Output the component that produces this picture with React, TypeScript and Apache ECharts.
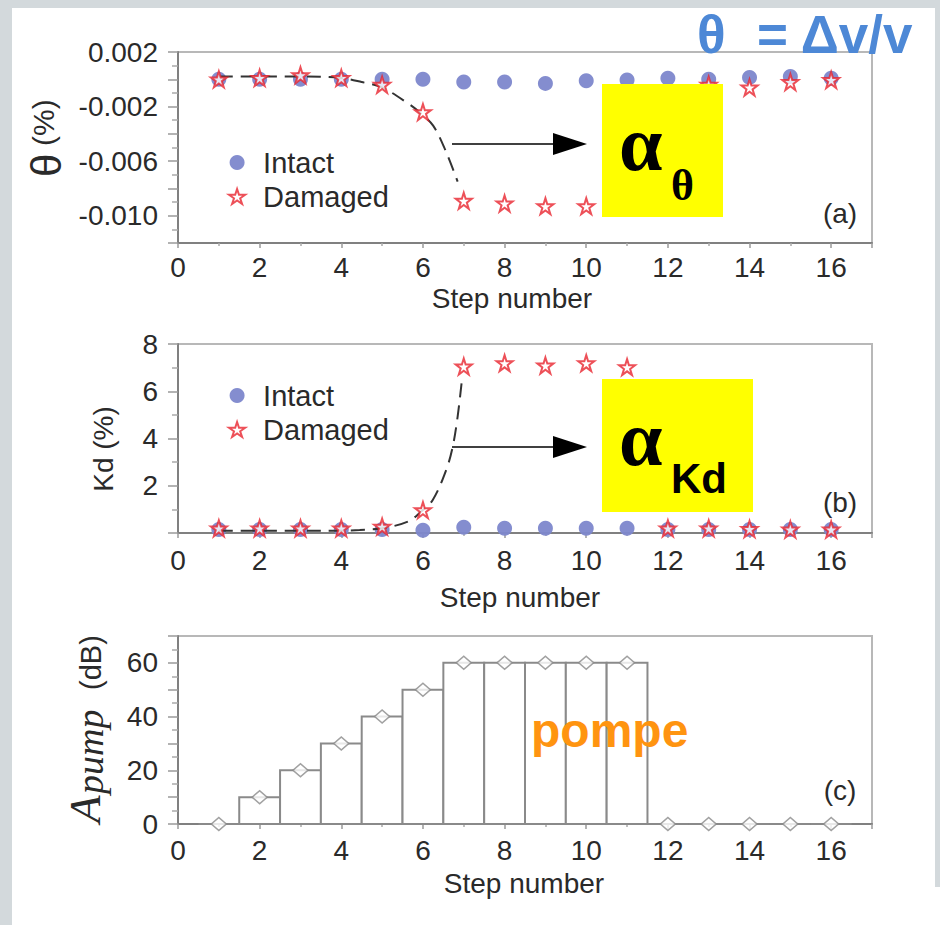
import React, { useEffect, useRef } from 'react';
import * as echarts from 'echarts';

// ---------- data ----------
const steps = [1, 2, 3, 4, 5, 6, 7, 8, 9, 10, 11, 12, 13, 14, 15, 16];

const thetaIntact = [0.0, 0.0, 0.0, 0.0, 0.0, 0.0, -0.0002, -0.0002, -0.0003, -0.0001, -0.00005, 0.00007, 0.0, 0.00014, 0.0002, 0.00007];
const thetaDamaged = [0.0, 0.0001, 0.0003, 0.0001, -0.0004, -0.0024, -0.0089, -0.0091, -0.0093, -0.0093, -0.0092, -0.0012, -0.0004, -0.0006, -0.0002, -0.00005];
const thetaFitX = [1, 2, 3, 4, 4.5, 5, 5.65, 5.95, 6.25, 6.55, 6.85];
const thetaFitY = [0.0002, 0.0002, 0.0002, 0.0001, -0.0002, -0.0006, -0.0018, -0.0025, -0.0034, -0.0052, -0.0075];

const kdIntact = [0.15, 0.15, 0.15, 0.15, 0.15, 0.12, 0.24, 0.2, 0.2, 0.2, 0.2, 0.15, 0.15, 0.15, 0.15, 0.15];
const kdDamaged = [0.2, 0.2, 0.2, 0.2, 0.27, 0.97, 7.05, 7.19, 7.09, 7.19, 7.02, 0.2, 0.2, 0.17, 0.15, 0.15];
const kdFitX = [1, 2, 3, 4, 4.45, 5, 5.63, 5.95, 6.24, 6.57, 6.73, 6.85, 6.95];
const kdFitY = [0.1, 0.1, 0.1, 0.1, 0.13, 0.2, 0.48, 0.9, 1.4, 2.67, 3.66, 4.93, 6.4];

const pumpDb = [0, 10, 20, 30, 40, 50, 60, 60, 60, 60, 60, 0, 0, 0, 0, 0];

const thetaTickLabels = ['0.002', '-0.002', '-0.006', '-0.010'];
const kdTickLabels = ['2', '4', '6', '8'];
const pumpTickLabels = ['0', '20', '40', '60'];
const stepTickLabels = ['0', '2', '4', '6', '8', '10', '12', '14', '16'];

// ---------- styles ----------
const SANS = '"Liberation Sans", Arial, Helvetica, sans-serif';
const SERIF = '"Liberation Serif", "Times New Roman", serif';
const TXT = '#2a2a2a';
const STAR = 'path://M50,0 L61.8,35.4 L100,35.4 L69.1,57.3 L80.9,92.7 L50,70.8 L19.1,92.7 L30.9,57.3 L0,35.4 L38.2,35.4 Z';
const INTACT_COLOR = '#7d87cc';
const DAMAGED_COLOR = '#e8242e';

function xAxisFor(gridIndex: number, labelMargin: number, nameGap: number, namePad: number[]) {
  return {
    type: 'value',
    gridIndex,
    min: 0,
    max: 17,
    interval: 2,
    name: 'Step number',
    nameLocation: 'middle',
    nameGap,
    nameTextStyle: { fontFamily: SANS, fontSize: 28, color: TXT, padding: namePad },
    axisLine: { show: true, onZero: false, lineStyle: { color: '#808080', width: 2 } },
    axisTick: { show: true, inside: false, length: 5, lineStyle: { color: '#9a9a9a', width: 1.5 } },
    minorTick: { show: true, splitNumber: 2, length: 3, lineStyle: { color: '#aaaaaa', width: 1.5 } },
    axisLabel: {
      margin: labelMargin,
      fontFamily: SANS,
      fontSize: 28,
      color: TXT,
      formatter: (v: number) => (stepTickLabels.includes(String(v)) ? String(v) : ''),
    },
    splitLine: { show: false },
  };
}

function yAxisFor(gridIndex: number, min: number, max: number, interval: number, fmt: (v: number) => string) {
  return {
    type: 'value',
    gridIndex,
    min,
    max,
    interval,
    axisLine: { show: true, onZero: false, lineStyle: { color: '#808080', width: 2 } },
    axisTick: { show: true, inside: false, length: 10, lineStyle: { color: '#9a9a9a', width: 1.5 } },
    minorTick: { show: true, splitNumber: 2, length: 6, lineStyle: { color: '#aaaaaa', width: 1.5 } },
    axisLabel: { margin: 20, fontFamily: SANS, fontSize: 28, color: TXT, formatter: fmt },
    splitLine: { show: false },
  };
}

const gridBase = { show: true, borderColor: '#b8b8b8', borderWidth: 2, backgroundColor: 'transparent', containLabel: false };

function legendAt(top: number) {
  return {
    orient: 'vertical',
    left: 223,
    top,
    itemWidth: 42,
    itemHeight: 15,
    itemGap: 5,
    selectedMode: false,
    data: [
      { name: 'Intact', icon: 'circle' },
      { name: 'Damaged', icon: STAR },
    ],
    textStyle: { fontFamily: SANS, fontSize: 29, color: TXT },
  };
}

const pairs = (xs: number[], ys: number[]) => xs.map((x, i) => [x, ys[i]]);

function buildOption() {
  const intactStyle = { color: INTACT_COLOR, opacity: 0.95 };
  const damagedStyle = { color: '#ffffff', borderColor: DAMAGED_COLOR, borderWidth: 2 };
  const fitLine = { color: '#333333', width: 2, type: [14, 8] };

  const textEl = (x: number, y: number, text: string, extra: any, z = 20) => ({
    type: 'text',
    x,
    y,
    z,
    style: {
      text,
      fill: TXT,
      align: 'left',
      verticalAlign: 'middle',
      textAlign: 'left',
      textVerticalAlign: 'middle',
      ...extra,
    },
  });

  const graphic: any[] = [
    // page frame strips
    { type: 'rect', z: 0, shape: { x: 0, y: 0, width: 12, height: 925 }, style: { fill: '#d3d9dc' } },
    { type: 'rect', z: 0, shape: { x: 0, y: 0, width: 940, height: 8 }, style: { fill: '#d3d9dc' } },
    { type: 'rect', z: 0, shape: { x: 935, y: 0, width: 5, height: 887 }, style: { fill: '#d3d9dc' } },

    // title
    textEl(697, 34, 'θ', { fontFamily: SANS, fontSize: 53, fontWeight: 'bold', fill: '#4d88d6' }),
    textEl(757, 34, '= Δv/v', { fontFamily: SANS, fontSize: 53, fontWeight: 'bold', fill: '#4d88d6' }),

    // y-axis name (a): θ (%)
    {
      type: 'group', x: 61, y: 177, rotation: Math.PI / 2, z: 20,
      children: [
        textEl(0, -14.6, 'θ', { fontFamily: SANS, fontSize: 42 }),
        textEl(31, -17.4, '(%)', { fontFamily: SANS, fontSize: 30 }),
      ],
    },
    // y-axis name (b)
    {
      type: 'text', x: 103, y: 449, rotation: Math.PI / 2, z: 20,
      style: {
        text: 'Kd (%)', fontFamily: SANS, fontSize: 28, fill: TXT,
        align: 'center', verticalAlign: 'middle', textAlign: 'center', textVerticalAlign: 'middle',
      },
    },
    // y-axis name (c): A_pump (dB)
    {
      type: 'group', x: 100, y: 823, rotation: Math.PI / 2, z: 20,
      children: [
        textEl(0, -15, 'A', { fontFamily: SERIF, fontStyle: 'italic', fontSize: 45 }),
        textEl(29, -10, 'pump', { fontFamily: SERIF, fontStyle: 'italic', fontSize: 38 }),
        textEl(133, -9, '(dB)', { fontFamily: SANS, fontSize: 29 }),
      ],
    },

    // panel tags
    textEl(840, 213, '(a)', { fontFamily: SANS, fontSize: 28, align: 'center', textAlign: 'center' }),
    textEl(840, 502, '(b)', { fontFamily: SANS, fontSize: 28, align: 'center', textAlign: 'center' }),
    textEl(840, 790, '(c)', { fontFamily: SANS, fontSize: 28, align: 'center', textAlign: 'center' }),

    // yellow boxes
    { type: 'rect', z: 15, shape: { x: 602, y: 84, width: 121, height: 133 }, style: { fill: '#ffff00' } },
    { type: 'rect', z: 15, shape: { x: 602, y: 379, width: 151, height: 133 }, style: { fill: '#ffff00' } },
    textEl(619, 143, 'α', { fontFamily: SERIF, fontWeight: 'bold', fontSize: 78, fill: '#000' }),
    textEl(671, 185, 'θ', { fontFamily: SERIF, fontWeight: 'bold', fontSize: 44, fill: '#000' }),
    textEl(619, 438, 'α', { fontFamily: SERIF, fontWeight: 'bold', fontSize: 78, fill: '#000' }),
    textEl(671, 478, 'Kd', { fontFamily: SANS, fontWeight: 'bold', fontSize: 42, fill: '#000' }),

    // arrows
    { type: 'line', z: 16, shape: { x1: 452, y1: 144, x2: 556, y2: 144 }, style: { stroke: '#000', lineWidth: 1.5 } },
    { type: 'polygon', z: 16, shape: { points: [[553, 133], [587, 144], [553, 155]] }, style: { fill: '#000' } },
    { type: 'line', z: 16, shape: { x1: 452, y1: 447, x2: 556, y2: 447 }, style: { stroke: '#000', lineWidth: 1.5 } },
    { type: 'polygon', z: 16, shape: { points: [[553, 436], [587, 447], [553, 458]] }, style: { fill: '#000' } },

    // pompe
    textEl(531, 730, 'pompe', { fontFamily: SANS, fontWeight: 'bold', fontSize: 48, fill: '#ff9410' }),
  ];

  return {
    animation: false,
    backgroundColor: '#ffffff',
    grid: [
      { ...gridBase, left: 178, top: 52, width: 694, height: 191 },
      { ...gridBase, left: 178, top: 344, width: 694, height: 189 },
      { ...gridBase, left: 178, top: 636, width: 694, height: 188 },
    ],
    xAxis: [
      xAxisFor(0, 10, 41, [0, 26, 0, 0]),
      xAxisFor(1, 13, 50, [0, 10, 0, 0]),
      xAxisFor(2, 12, 45, [0, 2, 0, 0]),
    ],
    yAxis: [
      yAxisFor(0, -0.012, 0.002, 0.002, (v: number) => {
        const s = v.toFixed(3);
        return thetaTickLabels.includes(s) ? s : '';
      }),
      yAxisFor(1, 0, 8, 2, (v: number) => (kdTickLabels.includes(String(Math.round(v))) ? String(Math.round(v)) : '')),
      yAxisFor(2, 0, 70, 10, (v: number) => (pumpTickLabels.includes(String(Math.round(v))) ? String(Math.round(v)) : '')),
    ],
    legend: [legendAt(143), legendAt(376)],
    series: [
      // (a)
      {
        name: 'Intact', type: 'scatter', xAxisIndex: 0, yAxisIndex: 0, symbol: 'circle', symbolSize: 15,
        itemStyle: intactStyle, z: 3, data: pairs(steps, thetaIntact),
      },
      {
        name: 'fitTheta', type: 'line', xAxisIndex: 0, yAxisIndex: 0, smooth: 0.35, showSymbol: false, symbol: 'none',
        lineStyle: fitLine, z: 4, data: pairs(thetaFitX, thetaFitY),
      },
      {
        name: 'Damaged', type: 'scatter', xAxisIndex: 0, yAxisIndex: 0, symbol: STAR, symbolSize: 16,
        itemStyle: damagedStyle, z: 5, data: pairs(steps, thetaDamaged),
      },
      // (b)
      {
        name: 'Intact', type: 'scatter', xAxisIndex: 1, yAxisIndex: 1, symbol: 'circle', symbolSize: 15,
        itemStyle: intactStyle, z: 3, data: pairs(steps, kdIntact),
      },
      {
        name: 'fitKd', type: 'line', xAxisIndex: 1, yAxisIndex: 1, smooth: 0.35, showSymbol: false, symbol: 'none',
        lineStyle: fitLine, z: 4, data: pairs(kdFitX, kdFitY),
      },
      {
        name: 'Damaged', type: 'scatter', xAxisIndex: 1, yAxisIndex: 1, symbol: STAR, symbolSize: 16,
        itemStyle: damagedStyle, z: 5, data: pairs(steps, kdDamaged),
      },
      // (c)
      {
        name: 'pumpBars', type: 'custom', xAxisIndex: 2, yAxisIndex: 2, z: 2,
        data: pairs(steps, pumpDb),
        renderItem: (_params: any, api: any) => {
          const x = api.value(0);
          const y = api.value(1);
          const p0 = api.coord([x - 0.5, y]);
          const p1 = api.coord([x + 0.5, 0]);
          return {
            type: 'rect',
            shape: { x: p0[0], y: p0[1], width: p1[0] - p0[0], height: p1[1] - p0[1] },
            style: { fill: '#ffffff', stroke: '#8a8a8a', lineWidth: 2 },
          };
        },
      },
      {
        name: 'pump', type: 'scatter', xAxisIndex: 2, yAxisIndex: 2, symbol: 'diamond', symbolSize: [15, 13],
        itemStyle: { color: '#ffffff', borderColor: '#8a8a8a', borderWidth: 1.5 }, z: 3,
        data: pairs(steps, pumpDb),
      },
    ],
    graphic,
  };
}

export default function App() {
  const ref = useRef<HTMLDivElement>(null);
  useEffect(() => {
    document.body.style.margin = '0';
    const chart = echarts.init(ref.current as HTMLDivElement, null, { renderer: 'svg' });
    chart.setOption(buildOption() as any);
    return () => {
      chart.dispose();
    };
  }, []);
  return <div ref={ref} style={{ width: 940, height: 925, background: '#ffffff' }} />;
}
